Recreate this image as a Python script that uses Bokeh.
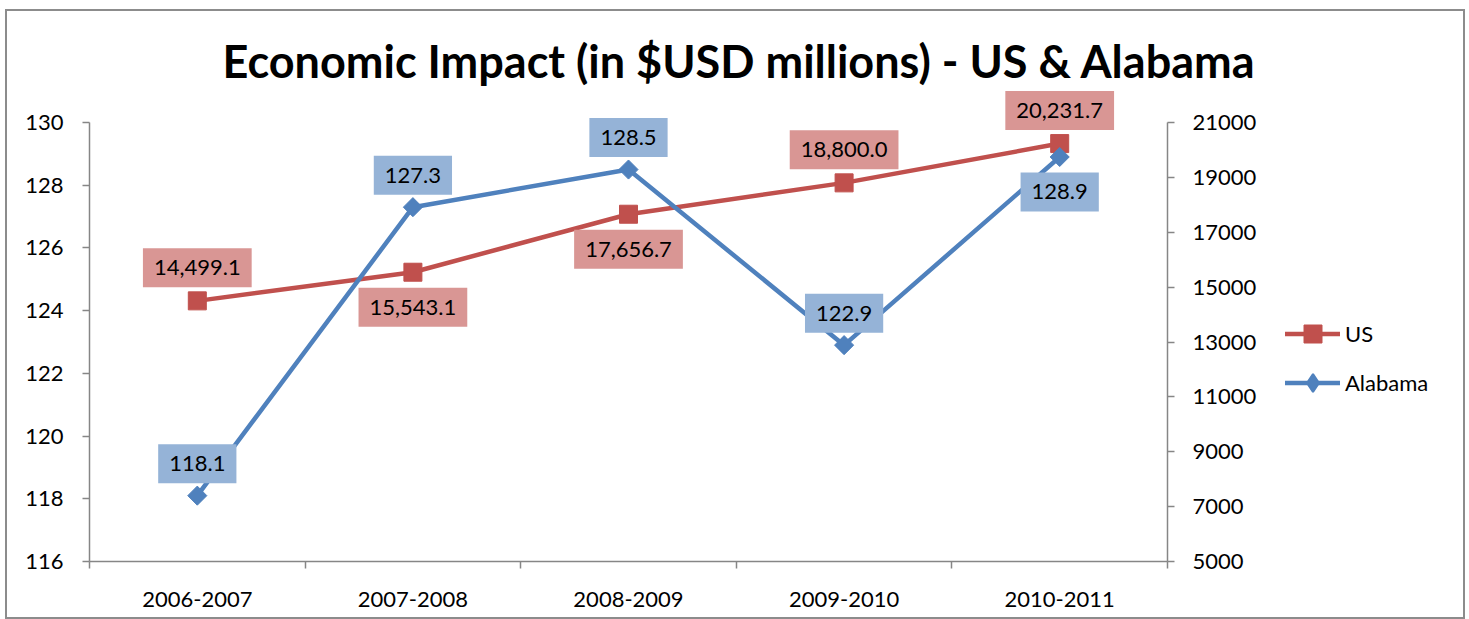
from bokeh.plotting import figure
from bokeh.layouts import row
from bokeh.models import Range1d, LinearAxis, FixedTicker, Legend, LegendItem, ColumnDataSource
from bokeh.core.properties import value
from bokeh.embed import file_html
from bokeh.resources import INLINE

# ---- data ----
categories = ["2006-2007", "2007-2008", "2008-2009", "2009-2010", "2010-2011"]
us_values = [14499.1, 15543.1, 17656.7, 18800.0, 20231.7]
alabama_values = [118.1, 127.3, 128.5, 122.9, 128.9]
left_ticks = [116, 118, 120, 122, 124, 126, 128, 130]
right_ticks = [5000, 7000, 9000, 11000, 13000, 15000, 17000, 19000, 21000]
series_names = ["US", "Alabama"]
us_label_side = ["above", "below", "below", "above", "above"]
al_label_side = ["above", "above", "above", "above", "below"]

FONT = "Lato"
RED = "#C0504D"
BLUE = "#4F81BD"
RED_BOX = "#D99694"
BLUE_BOX = "#95B3D7"
AXIS = "#868686"

# layout (pixels)
AXIS_H = 439      # height of the axis span
TOP_ROOM = 32     # free room above the axes for data labels
FRAME_H = AXIS_H + TOP_ROOM
FIG_H = 606

xpos = [i + 0.5 for i in range(len(categories))]

def stretched(lo, hi):
    return Range1d(lo, lo + (hi - lo) * FRAME_H / AXIS_H)

p = figure(width=1260, height=FIG_H, output_backend="svg", toolbar_location=None,
           x_range=Range1d(0, len(categories)),
           y_range=stretched(left_ticks[0], left_ticks[-1]),
           min_border_left=82, min_border_right=100, min_border_top=79, min_border_bottom=56,
           title="Economic Impact (in $USD millions) - US & Alabama")
p.extra_y_ranges = {"us": stretched(right_ticks[0], right_ticks[-1])}
p.xgrid.visible = False
p.ygrid.visible = False
p.outline_line_color = None
p.background_fill_color = "white"
p.border_fill_color = "white"

p.title.text_font = FONT
p.title.text_font_style = "bold"
p.title.text_font_size = "45px"
p.title.align = "left"
p.title.offset = 133
p.title.standoff = 6
p.title.text_color = "black"

# x axis
xa = p.xaxis[0]
xa.ticker = FixedTicker(ticks=xpos, minor_ticks=list(range(len(categories) + 1)))
xa.major_label_overrides = {x: c for x, c in zip(xpos, categories)}
xa.major_tick_out = 0
xa.major_tick_in = 0
xa.minor_tick_out = 7
xa.minor_tick_in = 0
xa.minor_tick_line_color = AXIS
xa.axis_line_color = AXIS
xa.axis_line_width = 1.5
xa.minor_tick_line_width = 1.5
xa.major_label_standoff = 23
xa.major_label_text_font = FONT
xa.major_label_text_font_size = "22px"
xa.major_label_text_color = "black"

# left axis
ya = p.yaxis[0]
ya.ticker = FixedTicker(ticks=left_ticks)
ya.bounds = (left_ticks[0], left_ticks[-1])
ya.major_tick_out = 7
ya.major_tick_in = 0
ya.minor_tick_out = 0
ya.minor_tick_in = 0
ya.axis_line_color = AXIS
ya.major_tick_line_color = AXIS
ya.axis_line_width = 1.5
ya.major_tick_line_width = 1.5
ya.major_label_standoff = 19
ya.major_label_text_font = FONT
ya.major_label_text_font_size = "22px"
ya.major_label_text_color = "black"

# right axis
ra = LinearAxis(y_range_name="us", ticker=FixedTicker(ticks=right_ticks),
                bounds=(right_ticks[0], right_ticks[-1]))
ra.major_tick_out = 7
ra.major_tick_in = 0
ra.minor_tick_out = 0
ra.minor_tick_in = 0
ra.axis_line_color = AXIS
ra.major_tick_line_color = AXIS
ra.axis_line_width = 1.5
ra.major_tick_line_width = 1.5
ra.major_label_standoff = 18
ra.major_label_text_font = FONT
ra.major_label_text_font_size = "22px"
ra.major_label_text_color = "black"
p.add_layout(ra, "right")

us_src = ColumnDataSource(dict(
    x=xpos, y=us_values,
    label=[f"{v:,.1f}" for v in us_values],
    dy=[-33 if s == "above" else 35 for s in us_label_side],
))
al_src = ColumnDataSource(dict(
    x=xpos, y=alabama_values,
    label=[f"{v:.1f}" for v in alabama_values],
    dy=[-32 if s == "above" else 35 for s in al_label_side],
))

p.line("x", "y", source=us_src, y_range_name="us", color=RED, line_width=4.5)
p.scatter("x", "y", source=us_src, y_range_name="us", marker="square", size=18,
          fill_color=RED, line_color=RED)
p.line("x", "y", source=al_src, color=BLUE, line_width=4.5)
p.scatter("x", "y", source=al_src, marker="square", angle=0.785398, size=13.5,
          fill_color=BLUE, line_color=BLUE)

p.text("x", "y", text="label", source=us_src, y_range_name="us", y_offset="dy",
       text_align="center", text_baseline="middle", text_font=value(FONT),
       text_font_size="22px", text_color="black",
       background_fill_color=RED_BOX, padding=(11, 12))
p.text("x", "y", text="label", source=al_src, y_offset="dy",
       text_align="center", text_baseline="middle", text_font=value(FONT),
       text_font_size="22px", text_color="black",
       background_fill_color=BLUE_BOX, padding=(11, 12))

# ---- legend panel (separate small figure to the right) ----
# the series are drawn again here only to feed the legend; they fall outside
# this panel's ranges, so only the legend swatches are visible
q = figure(width=196, height=FIG_H, output_backend="svg", toolbar_location=None,
           x_axis_type=None, y_axis_type=None, x_range=Range1d(-10, -9), y_range=Range1d(-10, -9),
           min_border=0)
q.outline_line_color = None
q.xgrid.visible = False
q.ygrid.visible = False
q.background_fill_color = "white"
q.border_fill_color = "white"
l_us = q.line("x", "y", source=us_src, color=RED, line_width=4.5, line_cap="round")
m_us = q.scatter("x", "y", source=us_src, marker="square", size=18, fill_color=RED, line_color=RED)
l_al = q.line("x", "y", source=al_src, color=BLUE, line_width=4.5, line_cap="round")
m_al = q.scatter("x", "y", source=al_src, marker="diamond", size=18,
                 fill_color=BLUE, line_color=BLUE, line_width=2)
legend = Legend(items=[LegendItem(label=series_names[0], renderers=[l_us, m_us]),
                       LegendItem(label=series_names[1], renderers=[l_al, m_al])],
                location=(18, 156), padding=0, margin=0, spacing=4,
                glyph_width=55, glyph_height=45, label_standoff=5,
                label_text_font=FONT, label_text_font_size="22px", label_text_color="black",
                border_line_color=None, background_fill_alpha=0)
q.add_layout(legend, "center")

layout = row(p, q, spacing=0)
layout.styles = {"margin-left": "7px", "margin-top": "11px", "outline": "2px solid #8c8c8c"}

open("out.html", "w").write(file_html(layout, INLINE))
